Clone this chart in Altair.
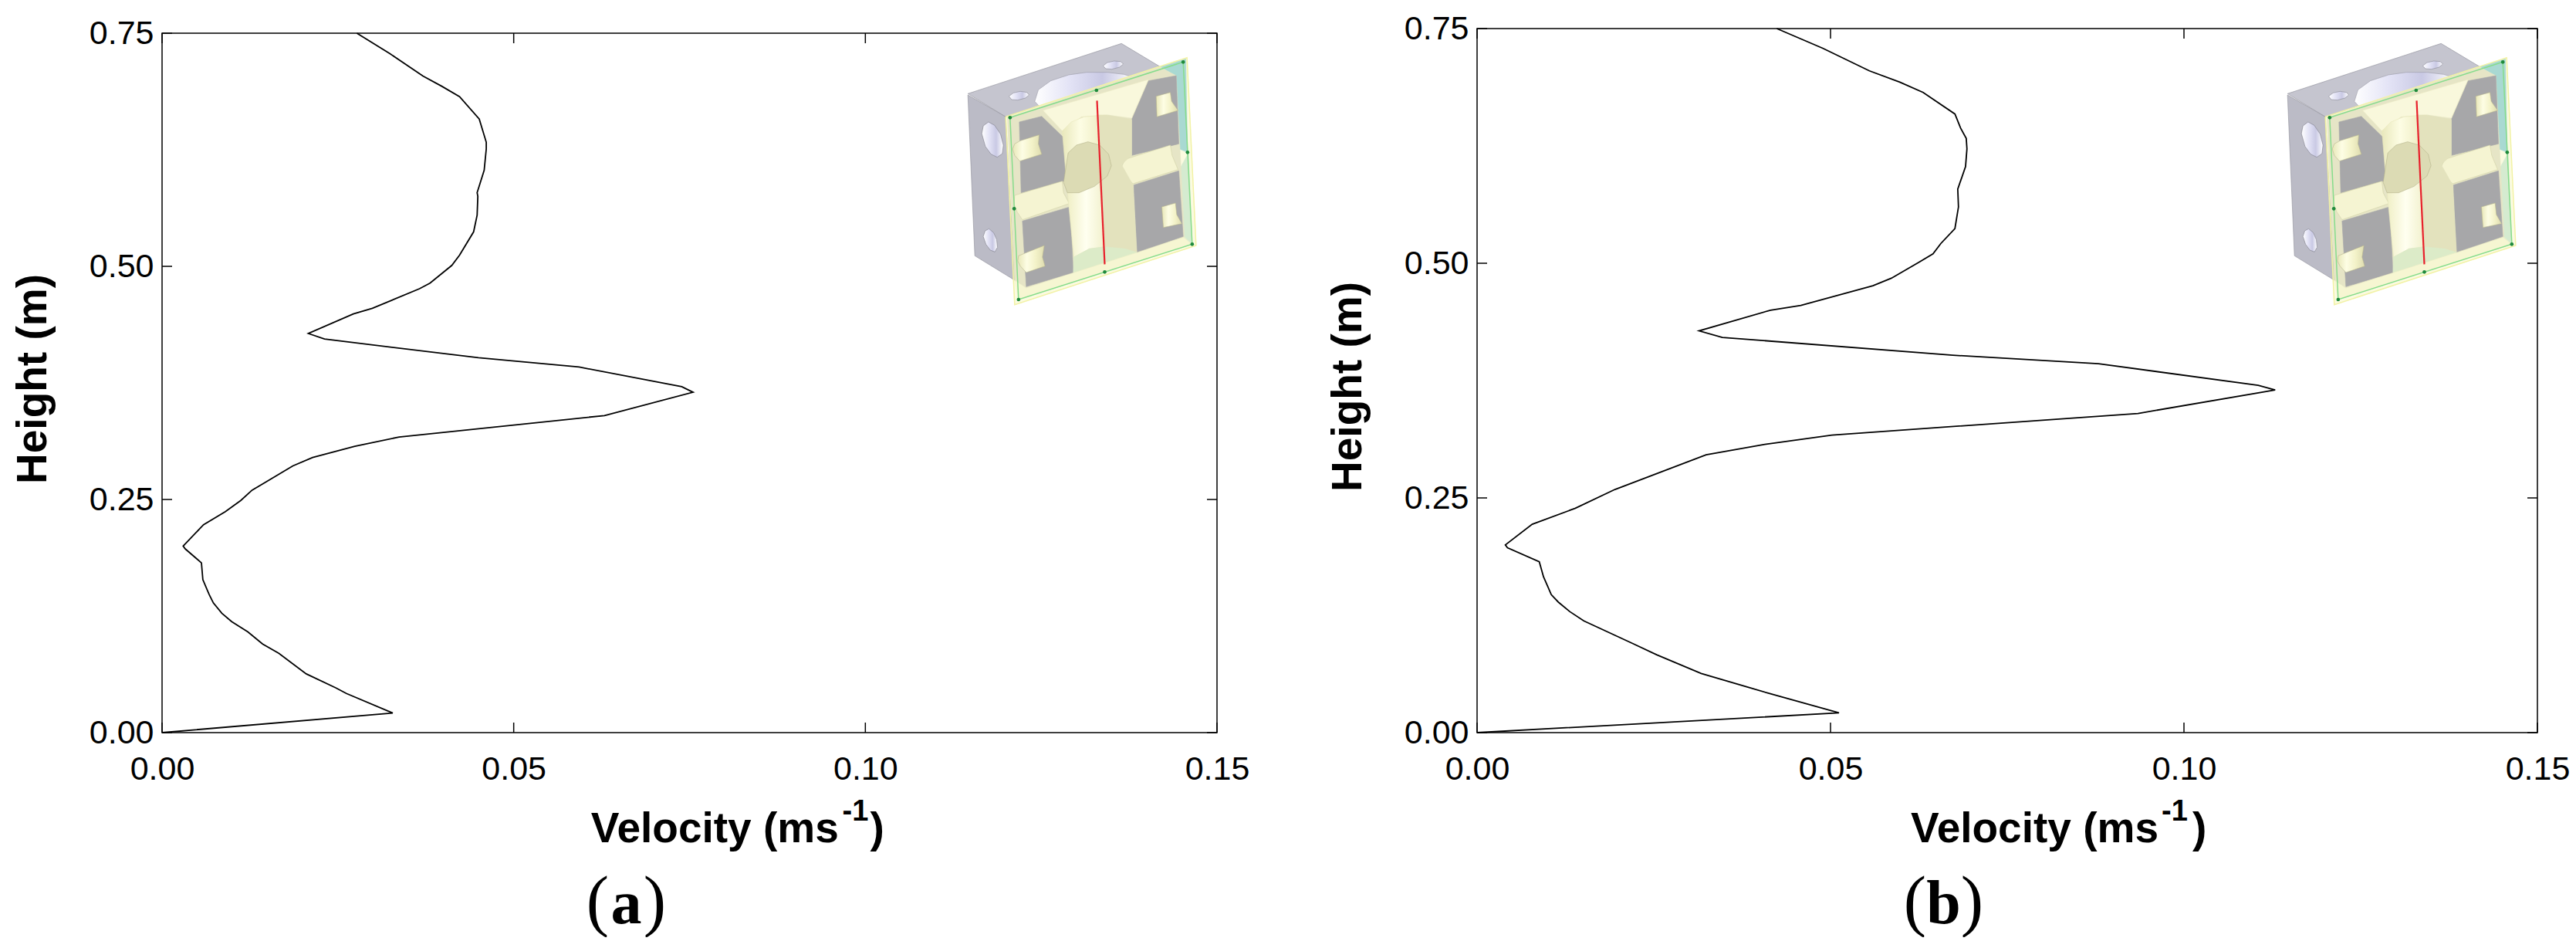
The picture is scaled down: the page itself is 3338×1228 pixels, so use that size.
import altair as alt
import pandas as pd

# velocity (m/s) and height (m)
vel_a = [0.0277, 0.0324, 0.0371, 0.0398, 0.0423, 0.0451, 0.0461, 0.0461, 0.0458, 0.0448, 0.0449, 0.0448, 0.0443,
         0.0423, 0.0412, 0.0381, 0.0366, 0.0299, 0.0272, 0.0208, 0.0231, 0.0450, 0.0593, 0.0739, 0.0755, 0.0629,
         0.0337, 0.0274, 0.0214, 0.0186, 0.0146, 0.0128, 0.0112, 0.0090, 0.0059, 0.0030, 0.0033, 0.0056, 0.0058,
         0.0067, 0.0073, 0.0085, 0.0099, 0.0122, 0.0143, 0.0166, 0.0205, 0.0247, 0.0262, 0.0328, 0.0]
hgt_a = [0.750, 0.728, 0.704, 0.693, 0.682, 0.658, 0.633, 0.626, 0.603, 0.579, 0.575, 0.555, 0.537,
         0.512, 0.501, 0.482, 0.476, 0.455, 0.449, 0.428, 0.422, 0.402, 0.392, 0.371, 0.365, 0.340,
         0.317, 0.307, 0.295, 0.286, 0.268, 0.260, 0.249, 0.237, 0.223, 0.200, 0.197, 0.182, 0.164,
         0.148, 0.139, 0.128, 0.119, 0.108, 0.095, 0.085, 0.063, 0.048, 0.042, 0.021, 0.0]
vel_b = [0.0424, 0.0489, 0.0555, 0.0598, 0.0631, 0.0676, 0.0684, 0.0692, 0.0693, 0.0691, 0.0680, 0.0681, 0.0676,
         0.0656, 0.0645, 0.0625, 0.0586, 0.0560, 0.0458, 0.0415, 0.0314, 0.0347, 0.0673, 0.0879, 0.1105, 0.1129,
         0.0935, 0.0502, 0.0407, 0.0324, 0.0195, 0.0139, 0.0078, 0.0040, 0.0043, 0.0088, 0.0094, 0.0105, 0.0115,
         0.0131, 0.0151, 0.0220, 0.0254, 0.0317, 0.0385, 0.0412, 0.0512, 0.0]
hgt_b = [0.750, 0.729, 0.705, 0.693, 0.682, 0.659, 0.644, 0.633, 0.622, 0.603, 0.579, 0.560, 0.537,
         0.521, 0.510, 0.501, 0.484, 0.476, 0.455, 0.450, 0.428, 0.421, 0.402, 0.393, 0.370, 0.365,
         0.340, 0.317, 0.307, 0.296, 0.259, 0.239, 0.222, 0.200, 0.197, 0.182, 0.166, 0.147, 0.139,
         0.129, 0.119, 0.095, 0.083, 0.063, 0.048, 0.042, 0.021, 0.0]

x_ticks = [0.0, 0.05, 0.10, 0.15]
y_ticks = [0.0, 0.25, 0.50, 0.75]


def shade(*colors):
    n = len(colors) - 1
    return alt.LinearGradient(gradient="linear", x1=0, x2=1, y1=0, y2=0, stops=[
        alt.GradientStop(color=c, offset=i / n) for i, c in enumerate(colors)])


hole_shade = shade("#ffffff", "#e4e4f6", "#c9c9e4", "#ffffff")
pipe_shade = shade("#e8e7b8", "#fdfde4", "#f3f2c8", "#dedcb0")

# inset sketch of the cut block: (fill, opacity, edge colour, outline), in pixels * 3 from a local origin
inset_shapes = [
    ("#c5c5cf", 1, "#8f8f98", [(158, 295), (755, 100), (905, 190), (305, 385)]),
    ("#bbbbc6", 1, "#8f8f98", [(158, 300), (305, 385), (340, 1020), (185, 925)]),
    (hole_shade, 1, "#9a9aa8", [(418, 325), (432, 280), (480, 245), (550, 222), (620, 212), (700, 212), (765, 220), (812, 235), (450, 360)]),
    (hole_shade, 1, "#8a8a96", [(318, 305), (335, 292), (362, 286), (388, 290), (396, 300), (382, 312), (352, 320), (328, 318)]),
    (hole_shade, 1, "#8a8a96", [(684, 187), (700, 174), (727, 168), (752, 170), (762, 180), (748, 192), (718, 200), (694, 198)]),
    (hole_shade, 1, "#7d7d8a", [(212, 450), (218, 420), (238, 405), (262, 418), (285, 452), (296, 495), (292, 528), (272, 542), (248, 530), (226, 500)]),
    (hole_shade, 1, "#7d7d8a", [(218, 850), (225, 828), (240, 820), (258, 835), (270, 862), (273, 892), (263, 910), (245, 903), (228, 880)]),
    ("#f4f4a8", 0.35, "#f4f4a8", [(305, 385), (1010, 155), (1045, 885), (340, 1115)]),
    ("#a9d9d2", 1, "#a9d9d2", [(905, 190), (1005, 160), (1012, 523), (955, 500), (950, 350), (965, 225)]),
    ("#d5ebd0", 1, "#d5ebd0", [(980, 590), (1016, 525), (1030, 880), (992, 850)]),
    ("#e6e5c6", 1, "#e6e5c6", [(312, 388), (905, 192), (968, 225), (1000, 852), (385, 1050), (340, 1020)]),
    ("#a7a7a9", 1, "#a7a7a9", [(358, 405), (445, 383), (545, 480), (552, 615), (530, 635), (365, 680)]),
    ("#a7a7a9", 1, "#a7a7a9", [(795, 395), (860, 245), (968, 225), (978, 490), (795, 535)]),
    ("#a7a7a9", 1, "#a7a7a9", [(370, 790), (555, 735), (568, 990), (385, 1045)]),
    ("#a7a7a9", 1, "#a7a7a9", [(803, 650), (978, 595), (995, 850), (815, 912)]),
    (pipe_shade, 1, "#b8b78e", [(340, 490), (362, 478), (435, 455), (432, 490), (445, 530), (360, 557), (340, 535), (332, 510)]),
    (pipe_shade, 1, "#b8b78e", [(890, 305), (945, 290), (950, 325), (975, 360), (893, 385)]),
    (pipe_shade, 1, "#b8b78e", [(355, 925), (455, 885), (448, 930), (458, 965), (385, 990), (362, 965), (352, 945)]),
    (pipe_shade, 1, "#b8b78e", [(912, 735), (965, 720), (970, 765), (990, 800), (918, 815)]),
    ("#f5f4d2", 1, "#d2d1a6", [(340, 690), (525, 635), (530, 680), (552, 722), (370, 785), (350, 755), (338, 725)]),
    ("#f5f4d2", 1, "#d2d1a6", [(770, 550), (945, 495), (952, 535), (975, 590), (800, 645), (770, 615), (755, 580)]),
    ("#f9f8dc", 1, "#ecebc6", [(450, 360), (860, 240), (795, 390), (700, 378), (600, 385), (525, 440)]),
    (shade("#e9e8bc", "#fdfde4", "#f0efc8"), 1, "#e9e8bc", [(525, 440), (560, 405), (610, 385), (665, 380), (665, 640), (545, 680)]),
    ("#e3e2bd", 1, "#e3e2bd", [(660, 378), (700, 378), (795, 395), (795, 535), (755, 570), (800, 650), (815, 910), (690, 890), (675, 640)]),
    (shade("#f0efc6", "#fffff0", "#f1f0cc"), 1, "#e8e7bd", [(545, 680), (670, 640), (690, 890), (630, 898), (570, 930)]),
    ("#dcdbb4", 1, "#b5b48c", [(530, 640), (548, 525), (580, 495), (625, 482), (670, 495), (705, 530), (716, 575), (700, 615), (650, 655), (590, 680), (545, 680)]),
    ("#dcebc8", 1, "#dcebc8", [(570, 930), (630, 898), (690, 890), (770, 898), (815, 912), (568, 990)]),
    ("#f3f3c8", 0.55, "#f3f3c8", [(340, 1020), (385, 1050), (1000, 852), (1030, 880), (355, 1095)]),
]
plane_line = [(322, 388), (995, 172), (1030, 880), (355, 1095), (322, 388)]
plane_edge = [(305, 385), (1010, 155), (1045, 885), (340, 1115), (305, 385)]
plane_dots = [(322, 388), (658, 282), (995, 172), (1012, 523), (1030, 880), (690, 988), (355, 1095), (338, 742)]
probe_line = [(660, 322), (690, 958)]


def px_x(p, origin, w):
    return (p / 3 + origin) / w * 0.15


def px_y(p, origin, top):
    return 0.75 * (912 - (p / 3 + origin)) / (912 - top)


def text(label, x, y, size, bold=True, angle=0, align="left", font="Liberation Sans"):
    return alt.Chart(pd.DataFrame({"t": [label]})).mark_text(
        fontSize=size, fontWeight="bold" if bold else "normal", font=font, angle=angle, align=align,
        baseline="alphabetic", color="black",
    ).encode(text="t:N", x=alt.value(x), y=alt.value(y))


def panel(vel, hgt, w, top, inset_x, inset_y, title_x, title_y, sup_x, par_x, ylab_y, cap_x, cap_y, cap):
    sx = alt.Scale(domain=[0, 0.15], nice=False, zero=False)
    sy = alt.Scale(domain=[0, 0.75], nice=False, zero=False, range=[912, top])
    x_enc = alt.X("x:Q", scale=sx, axis=alt.Axis(
        title=None, values=x_ticks, format=".2f", grid=False, domain=False, ticks=False, labelFlush=False,
        labelFont="Liberation Sans", labelFontSize=43, labelColor="black", labelPadding=26))
    y_enc = alt.Y("y:Q", scale=sy, axis=alt.Axis(
        title=None, values=y_ticks, format=".2f", grid=False, domain=False, ticks=False, labelFlush=False,
        labelFont="Liberation Sans", labelFontSize=43, labelColor="black", labelPadding=11))

    layers = []
    for fill, op, edge, pts in inset_shapes:
        df = pd.DataFrame({
            "x": [px_x(p[0], inset_x, w) for p in pts] + [px_x(pts[0][0], inset_x, w)],
            "y": [px_y(p[1], inset_y, top) for p in pts] + [px_y(pts[0][1], inset_y, top)],
            "i": range(len(pts) + 1),
        })
        layers.append(alt.Chart(df).mark_line(fill=fill, stroke=edge, strokeWidth=0.6, opacity=op).encode(
            x=x_enc, y=y_enc, order="i:Q"))

    for pts, color, sw in [(plane_edge, "#f2f2a6", 1.5), (plane_line, "#86dc8c", 1.5), (probe_line, "#e8202c", 2.2)]:
        df = pd.DataFrame({
            "x": [px_x(p[0], inset_x, w) for p in pts],
            "y": [px_y(p[1], inset_y, top) for p in pts],
            "i": range(len(pts)),
        })
        layers.append(alt.Chart(df).mark_line(color=color, strokeWidth=sw).encode(x=x_enc, y=y_enc, order="i:Q"))

    dots = pd.DataFrame({
        "x": [px_x(p[0], inset_x, w) for p in plane_dots],
        "y": [px_y(p[1], inset_y, top) for p in plane_dots],
    })
    layers.append(alt.Chart(dots).mark_circle(size=22, color="#1f8a3c", opacity=1).encode(x=x_enc, y=y_enc))

    curve = pd.DataFrame({"x": vel, "y": hgt, "i": range(len(vel))})
    layers.append(alt.Chart(curve).mark_line(color="black", strokeWidth=1.8).encode(x=x_enc, y=y_enc, order="i:Q"))

    # inward ticks on all four sides
    xt = alt.Chart(pd.DataFrame({"x": x_ticks})).mark_rule(color="black", strokeWidth=1.5)
    yt = alt.Chart(pd.DataFrame({"y": y_ticks})).mark_rule(color="black", strokeWidth=1.5)
    layers.append(xt.encode(x=x_enc, y=alt.value(912), y2=alt.value(899)))
    layers.append(xt.encode(x=x_enc, y=alt.value(top), y2=alt.value(top + 13)))
    layers.append(yt.encode(y=y_enc, x=alt.value(0), x2=alt.value(13)))
    layers.append(yt.encode(y=y_enc, x=alt.value(w), x2=alt.value(w - 13)))

    frame = alt.Chart(pd.DataFrame({"a": [0]})).mark_rect(
        fillOpacity=0, stroke="black", strokeWidth=1.5,
    ).encode(x=alt.value(0), x2=alt.value(w), y=alt.value(top), y2=alt.value(912))
    layers.append(frame)

    layers.append(text("Height (m)", -150.5, ylab_y, 55, angle=270, align="center"))
    layers.append(text("Velocity (ms", title_x, title_y, 55))
    layers.append(text("-1", sup_x, title_y - 27.5, 38))
    layers.append(text(")", par_x, title_y, 55))
    layers.append(text("(", cap_x - 37, cap_y, 88, bold=False, align="center", font="Liberation Serif"))
    layers.append(text(cap, cap_x, cap_y, 80, align="center", font="Liberation Serif"))
    layers.append(text(")", cap_x + 37, cap_y, 88, bold=False, align="center", font="Liberation Serif"))

    return alt.layer(*layers).properties(width=w, height=912)


left = panel(vel_a, hgt_a, 1367, 6, 991.5, -14, 555.8, 1053.7, 881.5, 917.5, 454, 601.5, 1159, "a")
right = panel(vel_b, hgt_b, 1374, 0, 997.5, -14, 562, 1053.5, 887, 927, 464, 604.5, 1159, "b")

chart = alt.hconcat(left, right, spacing=337, bounds="flush").properties(
    padding={"left": 7, "top": 8, "right": 0, "bottom": 0},
).configure_view(stroke=None)

chart.save("out.html", embed_options={"renderer": "svg", "actions": False})
